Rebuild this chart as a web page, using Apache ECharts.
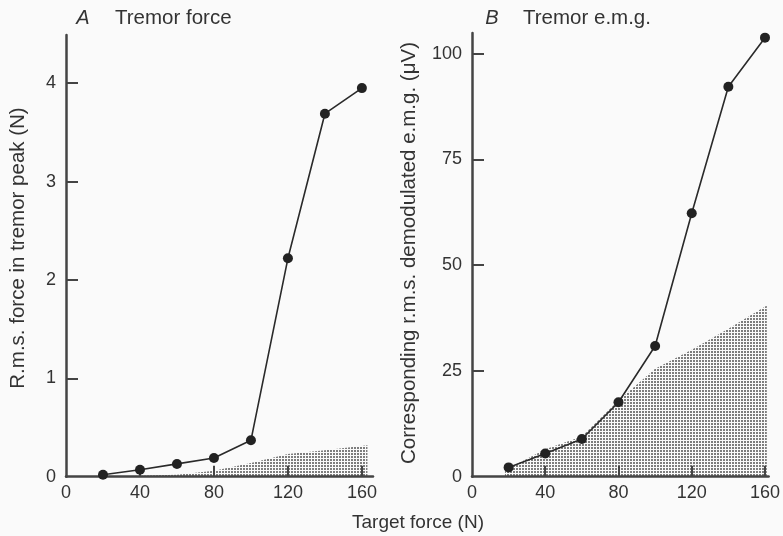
<!DOCTYPE html>
<html>
<head>
<meta charset="utf-8">
<script src="https://cdn.jsdelivr.net/npm/echarts@6/dist/echarts.min.js"></script>
<style>
  html, body { margin: 0; padding: 0; background: #fafafa; }
  #chart { width: 783px; height: 536px; }
</style>
</head>
<body>
<div id="chart"></div>
<script>
// target force (N) for both panels
const targetForce = [20, 40, 60, 80, 100, 120, 140, 160];
// A: r.m.s. force in tremor peak (N)
const tremorForce = [0.02, 0.07, 0.13, 0.19, 0.37, 2.22, 3.69, 3.95];
// B: r.m.s. demodulated e.m.g. (uV)
const tremorEmg = [2.2, 5.5, 8.9, 17.6, 30.9, 62.3, 92.2, 103.8];

// stippled regions
const shadeForceX = [20, 40, 60, 80, 100, 120, 140, 163];
const shadeForceY = [0, 0.01, 0.02, 0.06, 0.14, 0.23, 0.27, 0.32];
const shadeEmgX = [18, 40, 60, 80, 100, 120, 140, 161];
const shadeEmgY = [1.5, 6.5, 9.5, 18, 25.5, 30, 35, 40.5];

const xTicks = [0, 40, 80, 120, 160];
const yTicksA = [0, 1, 2, 3, 4];
const yTicksB = [0, 25, 50, 75, 100];

const pairs = (xs, ys) => xs.map((x, i) => [x, ys[i]]);

// dot pattern for the shaded area
const tile = document.createElement('canvas');
tile.width = 3; tile.height = 3;
const tctx = tile.getContext('2d');
tctx.fillStyle = '#7d7d7d';
tctx.fillRect(0, 0, 2, 2);

const font = 'Liberation Sans, Arial, sans-serif';
const ink = '#333';

function xAxisFor(idx, max) {
  return {
    type: 'value', gridIndex: idx, min: 0, max: max, z: 5,
    axisLine: { lineStyle: { color: '#444', width: 2.5 } },
    axisTick: { inside: true, length: 11, customValues: xTicks.slice(1), lineStyle: { color: '#444', width: 2 } },
    axisLabel: { customValues: xTicks, margin: 7, fontSize: 18, color: ink, fontFamily: font },
    splitLine: { show: false }
  };
}
function yAxisFor(idx, max, ticks) {
  return {
    type: 'value', gridIndex: idx, min: 0, max: max, z: 5,
    axisLine: { show: true, lineStyle: { color: '#444', width: 2.5 } },
    axisTick: { show: true, inside: true, length: 12, customValues: ticks.slice(1), lineStyle: { color: '#444', width: 2 } },
    axisLabel: { customValues: ticks, margin: 10, fontSize: 18, color: ink, fontFamily: font },
    splitLine: { show: false }
  };
}

function label(x, y, text, size, extra) {
  return Object.assign({ type: 'text', x: x, y: y, style: Object.assign({
    text: text, font: size + 'px ' + font, fill: ink,
    textAlign: 'center', textVerticalAlign: 'middle' }, extra || {}) });
}

const chart = echarts.init(document.getElementById('chart'));
chart.setOption({
  backgroundColor: '#fafafa',
  animation: false,
  grid: [
    { left: 66, top: 35, width: 307, height: 441.7 },
    { left: 472, top: 33, width: 300, height: 443.7 }
  ],
  xAxis: [xAxisFor(0, 166), xAxisFor(1, 162)],
  yAxis: [yAxisFor(0, 4.49, yTicksA), yAxisFor(1, 104.9, yTicksB)],
  series: [
    {
      type: 'line', xAxisIndex: 0, yAxisIndex: 0, z: 1,
      data: pairs(shadeForceX, shadeForceY),
      showSymbol: false, lineStyle: { width: 0 },
      areaStyle: { color: { image: tile, repeat: 'repeat' }, opacity: 1 }
    },
    {
      type: 'line', xAxisIndex: 1, yAxisIndex: 1, z: 1,
      data: pairs(shadeEmgX, shadeEmgY),
      showSymbol: false, lineStyle: { width: 0 },
      areaStyle: { color: { image: tile, repeat: 'repeat' }, opacity: 1 }
    },
    {
      type: 'line', xAxisIndex: 0, yAxisIndex: 0, z: 6,
      data: pairs(targetForce, tremorForce),
      symbol: 'circle', symbolSize: 10,
      lineStyle: { color: '#2a2a2a', width: 1.6 },
      itemStyle: { color: '#222' }
    },
    {
      type: 'line', xAxisIndex: 1, yAxisIndex: 1, z: 6,
      data: pairs(targetForce, tremorEmg),
      symbol: 'circle', symbolSize: 10,
      lineStyle: { color: '#2a2a2a', width: 1.6 },
      itemStyle: { color: '#222' }
    }
  ],
  graphic: [
    label(83, 18, 'A', 20, { font: 'italic 20px ' + font }),
    label(115, 18, 'Tremor force', 20.5, { textAlign: 'left' }),
    label(492, 18, 'B', 20, { font: 'italic 20px ' + font }),
    label(523, 18, 'Tremor e.m.g.', 20.5, { textAlign: 'left' }),
    Object.assign(label(18, 248, 'R.m.s. force in tremor peak (N)', 20.5), { rotation: Math.PI / 2 }),
    Object.assign(label(409, 253, 'Corresponding r.m.s. demodulated e.m.g. (\u03bcV)', 20.5), { rotation: Math.PI / 2 }),
    label(418, 523, 'Target force (N)', 19)
  ]
});
</script>
</body>
</html>
